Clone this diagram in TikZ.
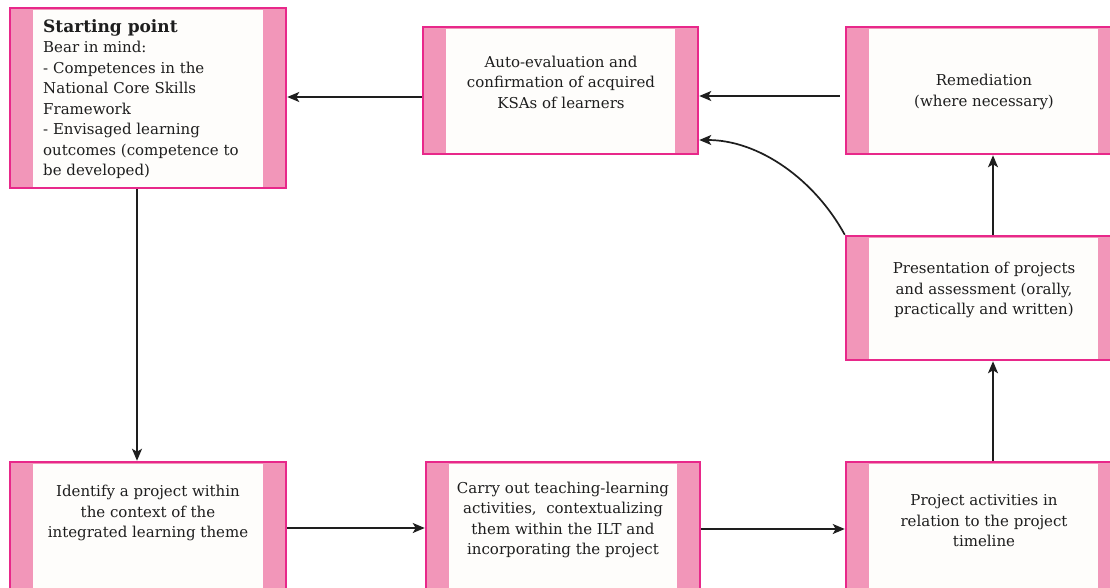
\documentclass[tikz,border=0pt]{standalone}
\usepackage{fontspec}
\setmainfont{DejaVu Serif}
\usetikzlibrary{arrows.meta}
\definecolor{band}{HTML}{F296B9}
\definecolor{edge}{HTML}{E8288A}
\definecolor{inner}{HTML}{FEFDFB}
\definecolor{ink}{HTML}{1E1E1E}
\begin{document}
\begin{tikzpicture}[x=1pt,y=-1pt,
  kbox/.style={draw=edge, line width=2.5pt, fill=band, inner sep=0pt,
    path picture={\fill[inner] ([xshift=23pt,yshift=1.5pt]path picture bounding box.south west) rectangle ([xshift=-23pt,yshift=-1.5pt]path picture bounding box.north east);}},
  txt/.style={align=center, inner sep=0pt, text=ink, font=\fontsize{15}{20.5}\selectfont},
  arr/.style={draw=ink, line width=1.7pt, -{Stealth[length=12pt,width=10pt,inset=3pt]}}]
\useasboundingbox (0,0) rectangle (1110,587);
\clip (0,0) rectangle (1110,587);
\fill[white] (0,0) rectangle (1110,587);
% boxes
\node[kbox, minimum width=276pt, minimum height=180pt] (S) at (148,98) {};
\node[kbox, minimum width=275pt, minimum height=127pt] (A) at (560.5,90.5) {};
\node[kbox, minimum width=275pt, minimum height=127pt] (R) at (983.5,90.5) {};
\node[kbox, minimum width=275pt, minimum height=124pt] (P) at (983.5,298) {};
\node[kbox, minimum width=276pt, minimum height=127pt] (I) at (148,525.5) {};
\node[kbox, minimum width=274pt, minimum height=127pt] (C) at (563,525.5) {};
\node[kbox, minimum width=275pt, minimum height=127pt] (J) at (983.5,525.5) {};
% texts
\node[txt, align=left, anchor=north west] (St) at (43,19) {{\fontsize{17}{20.5}\selectfont\bfseries Starting point}\\Bear in mind:\\- Competences in the\\National Core Skills\\Framework\\- Envisaged learning\\outcomes (competence to\\be developed)};
\node[txt] (At) at (561,82) {Auto-evaluation and\\confirmation of acquired\\KSAs of learners};
\node[txt] (Rt) at (984,92) {Remediation\\(where necessary)};
\node[txt] (Pt) at (984,290) {Presentation of projects\\and assessment (orally,\\practically and written)};
\node[txt] (It) at (148,513) {Identify a project within\\the context of the\\integrated learning theme};
\node[txt] (Ct) at (563,520) {Carry out teaching-learning\\activities,\ \ contextualizing\\them within the ILT and\\incorporating the project};
\node[txt] (Jt) at (984,521) {Project activities in\\relation to the project\\timeline};
% connectors
\draw[arr, shorten <=5pt] ([yshift=-5.5pt]R.west) -- ([yshift=-5.5pt]A.east);
\draw[arr] ([yshift=-6.5pt]A.west) -- ([yshift=-6.5pt]S.east |- A.west);
\draw[arr] (P.north west) .. controls +(-30,-55) and +(60,0) .. ([yshift=-49.5pt]A.east);
\draw[arr] ([xshift=-11pt]S.south) -- ([xshift=-11pt]I.north);
\draw[arr] ([yshift=-2.5pt]I.east) -- ([yshift=-2.5pt]C.west);
\draw[arr] ([yshift=-3.5pt]C.east) -- ([yshift=-3.5pt]J.west);
\draw[arr] ([xshift=9.5pt]J.north) -- ([xshift=9.5pt]P.south);
\draw[arr] ([xshift=9.5pt]P.north) -- ([xshift=9.5pt]R.south);
\end{tikzpicture}
\end{document}
